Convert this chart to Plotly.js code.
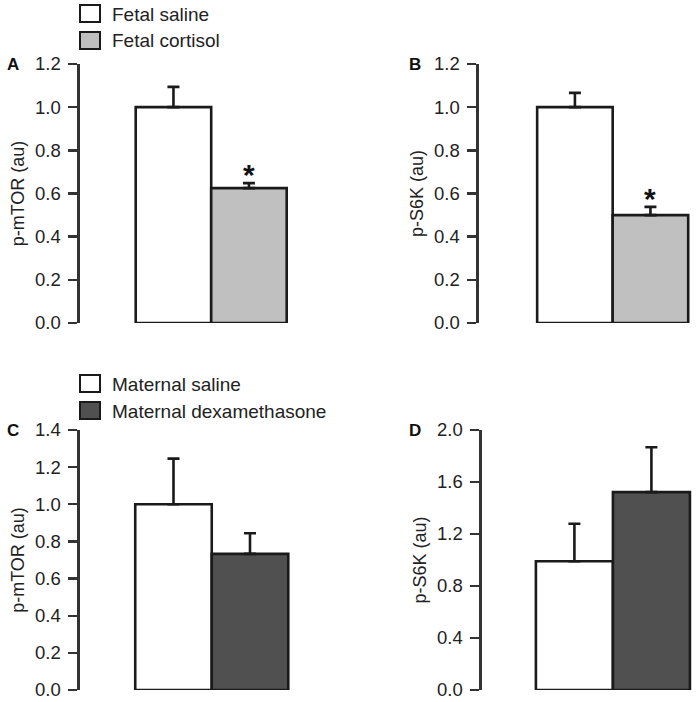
<!DOCTYPE html>
<html>
<head>
<meta charset="utf-8">
<script src="https://cdn.plot.ly/plotly-3.0.1.min.js"></script>
<style>
  html, body { margin: 0; padding: 0; background: #fff; }
  #chart { width: 696px; height: 702px; }
</style>
</head>
<body>
<div id="chart"></div>
<script>
// group positions on each panel's x axis
var groupX = [0, 1];

// panel A: fetal, p-mTOR
var fetalMtorMean = [1.0, 0.625];
var fetalMtorSem = [0.094, 0.023];
// panel B: fetal, p-S6K
var fetalS6kMean = [1.0, 0.50];
var fetalS6kSem = [0.066, 0.038];
// panel C: maternal, p-mTOR
var matMtorMean = [1.0, 0.733];
var matMtorSem = [0.246, 0.111];
// panel D: maternal, p-S6K
var matS6kMean = [0.99, 1.522];
var matS6kSem = [0.289, 0.345];

var fetalNames = ['Fetal saline', 'Fetal cortisol'];
var maternalNames = ['Maternal saline', 'Maternal dexamethasone'];
var fetalColors = ['#ffffff', '#c0c0c0'];
var maternalColors = ['#ffffff', '#505050'];

var edge = '#1a1a1a';

function panelTraces(xa, ya, means, sems, colors, names) {
  var out = [];
  for (var i = 0; i < means.length; i++) {
    out.push({
      type: 'bar',
      x: [groupX[i]],
      y: [means[i]],
      width: 1,
      name: names[i],
      xaxis: xa,
      yaxis: ya,
      showlegend: false,
      cliponaxis: false,
      marker: {color: colors[i], line: {color: edge, width: 2.6}},
      error_y: {
        type: 'data', symmetric: false,
        array: [sems[i]], arrayminus: [0],
        color: edge, thickness: 2.6, width: 6
      },
      hoverinfo: 'name+y'
    });
  }
  return out;
}

var data = []
  .concat(panelTraces('x', 'y', fetalMtorMean, fetalMtorSem, fetalColors, fetalNames))
  .concat(panelTraces('x2', 'y2', fetalS6kMean, fetalS6kSem, fetalColors, fetalNames))
  .concat(panelTraces('x3', 'y3', matMtorMean, matMtorSem, maternalColors, maternalNames))
  .concat(panelTraces('x4', 'y4', matS6kMean, matS6kSem, maternalColors, maternalNames));

var W = 696, H = 702;
function px(v) { return v / W; }
function py(v) { return 1 - v / H; }

function yAx(title, top, bottom, range, dtick, anchor) {
  return {
    domain: [py(bottom), py(top)],
    anchor: anchor,
    range: range,
    dtick: dtick,
    tick0: 0,
    tickformat: '.1f',
    showline: true,
    linewidth: 2.6,
    linecolor: '#333333',
    ticks: 'outside',
    ticklen: 9,
    tickwidth: 2.4,
    tickcolor: '#333333',
    showgrid: false,
    zeroline: false,
    ticklabelstandoff: 4,
    tickfont: {size: 18.5, color: '#222222'},
    title: {text: title, font: {size: 18, color: '#222222'}, standoff: 6}
  };
}

function xAx(left, right, range, anchor) {
  return {domain: [px(left), px(right)], range: range, visible: false, anchor: anchor, fixedrange: true};
}

var axisFont = {family: 'Liberation Sans, Arial, sans-serif', size: 18, color: '#222222'};

var shapes = [];
var annotations = [];

function legendBlock(top, names, colors) {
  for (var i = 0; i < names.length; i++) {
    var y0 = top + i * 27;
    shapes.push({
      type: 'rect', xref: 'paper', yref: 'paper',
      x0: px(80), x1: px(100), y0: py(y0 + 17), y1: py(y0),
      fillcolor: colors[i], line: {color: edge, width: 2}
    });
    annotations.push({
      xref: 'paper', yref: 'paper', x: px(110), y: py(y0 + 9),
      xanchor: 'left', yanchor: 'middle', showarrow: false,
      text: names[i], font: {size: 19, color: '#222222'}
    });
  }
}
legendBlock(5, fetalNames, fetalColors);
legendBlock(375, maternalNames, maternalColors);

function letter(t, x, y) {
  annotations.push({
    xref: 'paper', yref: 'paper', x: px(x), y: py(y),
    xanchor: 'center', yanchor: 'middle', showarrow: false,
    text: '<b>' + t + '</b>', font: {size: 17, color: '#111111'}
  });
}
letter('A', 13, 64);
letter('B', 415, 64);
letter('C', 13, 430);
letter('D', 415, 430);

function star(xa, ya, top) {
  annotations.push({
    xref: xa, yref: ya, x: 1, y: top,
    xanchor: 'center', yanchor: 'bottom', yshift: -10, showarrow: false,
    text: '<b>*</b>', font: {size: 30, color: '#111111'}
  });
}
star('x', 'y', fetalMtorMean[1] + fetalMtorSem[1]);
star('x2', 'y2', fetalS6kMean[1] + fetalS6kSem[1]);

var layout = {
  width: W,
  height: H,
  margin: {l: 0, r: 0, t: 0, b: 0},
  paper_bgcolor: '#ffffff',
  plot_bgcolor: 'rgba(0,0,0,0)',
  font: axisFont,
  barmode: 'overlay',
  showlegend: false,
  xaxis: xAx(80, 295, [-1.238, 1.61], 'y'),
  yaxis: yAx('p-mTOR (au)', 64, 323, [0, 1.2], 0.2, 'x'),
  xaxis2: xAx(479, 695, [-1.27, 1.59], 'y2'),
  yaxis2: yAx('p-S6K (au)', 64, 323, [0, 1.2], 0.2, 'x2'),
  xaxis3: xAx(80, 295, [-1.222, 1.588], 'y3'),
  yaxis3: yAx('p-mTOR (au)', 430, 690, [0, 1.4], 0.2, 'x3'),
  xaxis4: xAx(482, 695, [-1.2, 1.566], 'y4'),
  yaxis4: yAx('p-S6K (au)', 430, 690, [0, 2.0], 0.4, 'x4'),
  shapes: shapes,
  annotations: annotations
};

Plotly.newPlot('chart', data, layout, {displayModeBar: false, staticPlot: true});
</script>
</body>
</html>
